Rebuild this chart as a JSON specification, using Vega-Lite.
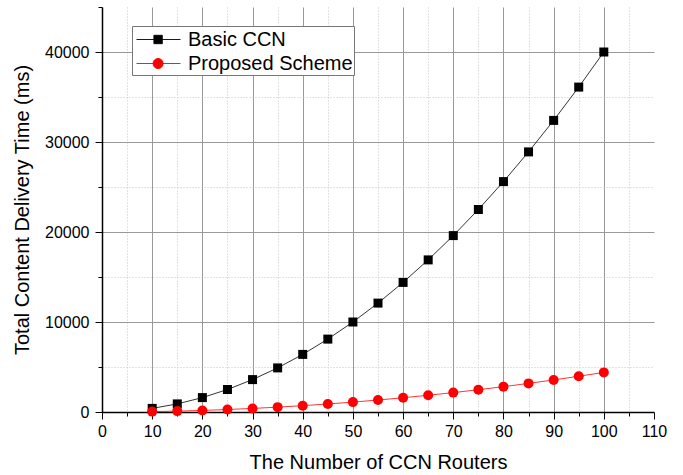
{
  "$schema": "https://vega.github.io/schema/vega-lite/v6.json",
  "autosize": {"type": "none"},
  "width": 552,
  "height": 405,
  "padding": {"left": 102, "top": 7, "right": 29, "bottom": 63},
  "background": "white",
  "config": {
    "view": {"stroke": null},
    "font": "Liberation Sans",
    "axis": {
      "domainColor": "black",
      "domainWidth": 1.5,
      "tickColor": "black",
      "tickWidth": 1,
      "labelColor": "black",
      "labelFontSize": 16,
      "labelFont": "Liberation Sans",
      "labelFlush": false,
      "titleFont": "Liberation Sans",
      "titleFontSize": 20,
      "titleFontWeight": "normal",
      "titleColor": "black"
    }
  },
  "data": {
    "values": [
      {"series": "Basic CCN", "n": 10, "t": 400},
      {"series": "Basic CCN", "n": 15, "t": 900},
      {"series": "Basic CCN", "n": 20, "t": 1600},
      {"series": "Basic CCN", "n": 25, "t": 2500},
      {"series": "Basic CCN", "n": 30, "t": 3600},
      {"series": "Basic CCN", "n": 35, "t": 4900},
      {"series": "Basic CCN", "n": 40, "t": 6400},
      {"series": "Basic CCN", "n": 45, "t": 8100},
      {"series": "Basic CCN", "n": 50, "t": 10000},
      {"series": "Basic CCN", "n": 55, "t": 12100},
      {"series": "Basic CCN", "n": 60, "t": 14400},
      {"series": "Basic CCN", "n": 65, "t": 16900},
      {"series": "Basic CCN", "n": 70, "t": 19600},
      {"series": "Basic CCN", "n": 75, "t": 22500},
      {"series": "Basic CCN", "n": 80, "t": 25600},
      {"series": "Basic CCN", "n": 85, "t": 28900},
      {"series": "Basic CCN", "n": 90, "t": 32400},
      {"series": "Basic CCN", "n": 95, "t": 36100},
      {"series": "Basic CCN", "n": 100, "t": 40000},
      {"series": "Proposed Scheme", "n": 10, "t": 44},
      {"series": "Proposed Scheme", "n": 15, "t": 99},
      {"series": "Proposed Scheme", "n": 20, "t": 176},
      {"series": "Proposed Scheme", "n": 25, "t": 275},
      {"series": "Proposed Scheme", "n": 30, "t": 396},
      {"series": "Proposed Scheme", "n": 35, "t": 539},
      {"series": "Proposed Scheme", "n": 40, "t": 704},
      {"series": "Proposed Scheme", "n": 45, "t": 891},
      {"series": "Proposed Scheme", "n": 50, "t": 1100},
      {"series": "Proposed Scheme", "n": 55, "t": 1331},
      {"series": "Proposed Scheme", "n": 60, "t": 1584},
      {"series": "Proposed Scheme", "n": 65, "t": 1859},
      {"series": "Proposed Scheme", "n": 70, "t": 2156},
      {"series": "Proposed Scheme", "n": 75, "t": 2475},
      {"series": "Proposed Scheme", "n": 80, "t": 2816},
      {"series": "Proposed Scheme", "n": 85, "t": 3179},
      {"series": "Proposed Scheme", "n": 90, "t": 3564},
      {"series": "Proposed Scheme", "n": 95, "t": 3971},
      {"series": "Proposed Scheme", "n": 100, "t": 4400}
    ]
  },
  "encoding": {
    "x": {
      "field": "n", "type": "quantitative",
      "scale": {"domain": [0, 110], "nice": false, "zero": false},
      "axis": {
        "title": "The Number of CCN Routers",
        "values": [0,5,10,15,20,25,30,35,40,45,50,55,60,65,70,75,80,85,90,95,100,105,110],
        "labelExpr": "datum.value % 10 === 0 ? datum.label : ''",
        "labelOverlap": false,
        "labelPadding": 4,
        "titlePadding": 13,
        "tickSize": {"condition": {"test": "datum.value % 10 !== 0", "value": 4}, "value": 7},
        "gridDash": {"condition": {"test": "datum.value % 10 !== 0", "value": [1, 2]}, "value": []},
        "gridColor": {"condition": {"test": "datum.value % 10 !== 0", "value": "#c4c4c4"}, "value": "#999999"},
        "gridOpacity": {"condition": {"test": "datum.value === 0 || datum.value === 110", "value": 0}, "value": 1},
        "gridWidth": 1
      }
    },
    "y": {
      "field": "t", "type": "quantitative",
      "scale": {"domain": [0, 45000], "nice": false},
      "axis": {
        "title": "Total Content Delivery Time (ms)",
        "values": [0,5000,10000,15000,20000,25000,30000,35000,40000,45000],
        "format": "d",
        "labelExpr": "datum.value % 10000 === 0 ? datum.label : ''",
        "labelOverlap": false,
        "labelPadding": 6,
        "titlePadding": 12,
        "tickSize": {"condition": {"test": "datum.value % 10000 !== 0", "value": 4}, "value": 7},
        "gridDash": {"condition": {"test": "datum.value % 10000 !== 0", "value": [1, 2]}, "value": []},
        "gridColor": {"condition": {"test": "datum.value % 10000 !== 0", "value": "#c4c4c4"}, "value": "#999999"},
        "gridOpacity": {"condition": {"test": "datum.value === 0 || datum.value === 45000", "value": 0}, "value": 1},
        "gridWidth": 1
      }
    },
    "color": {
      "field": "series", "type": "nominal",
      "scale": {"domain": ["Basic CCN", "Proposed Scheme"], "range": ["black", "#ff0000"]},
      "legend": {
        "title": null,
        "orient": "none",
        "legendX": 30,
        "legendY": 19,
        "direction": "vertical",
        "strokeColor": "#777777",
        "fillColor": "white",
        "padding": 1,
        "labelFontSize": 20,
        "labelFont": "Liberation Sans",
        "labelColor": "black",
        "labelLimit": 400,
        "labelOffset": 30,
        "rowPadding": 1,
        "symbolSize": 576,
        "symbolStrokeWidth": 1,
        "encode": {
          "symbols": {
            "update": {
              "shape": {"signal": "datum.label === 'Basic CCN' ? 'M-0.75,0H2.917M0.7,-0.35H1.4V0.35H0.7Z' : 'M-0.75,0H2.917M1.47,0A0.42,0.42,0,1,1,0.63,0A0.42,0.42,0,1,1,1.47,0Z'"},
              "fill": {"signal": "datum.label === 'Basic CCN' ? 'black' : '#ff0000'"},
              "stroke": {"signal": "datum.label === 'Basic CCN' ? '#555555' : '#ff3333'"},
              "size": {"value": 576},
              "strokeWidth": {"value": 0.9},
              "opacity": {"value": 1}
            }
          }
        }
      }
    }
  },
  "layer": [
    {
      "mark": {"type": "line", "strokeWidth": 0.8}
    },
    {
      "transform": [{"filter": "datum.series === 'Basic CCN'"}],
      "mark": {"type": "point", "shape": "square", "filled": true, "opacity": 1, "size": 81}
    },
    {
      "transform": [{"filter": "datum.series === 'Proposed Scheme'"}],
      "mark": {"type": "point", "shape": "circle", "filled": true, "opacity": 1, "size": 100}
    }
  ]
}
